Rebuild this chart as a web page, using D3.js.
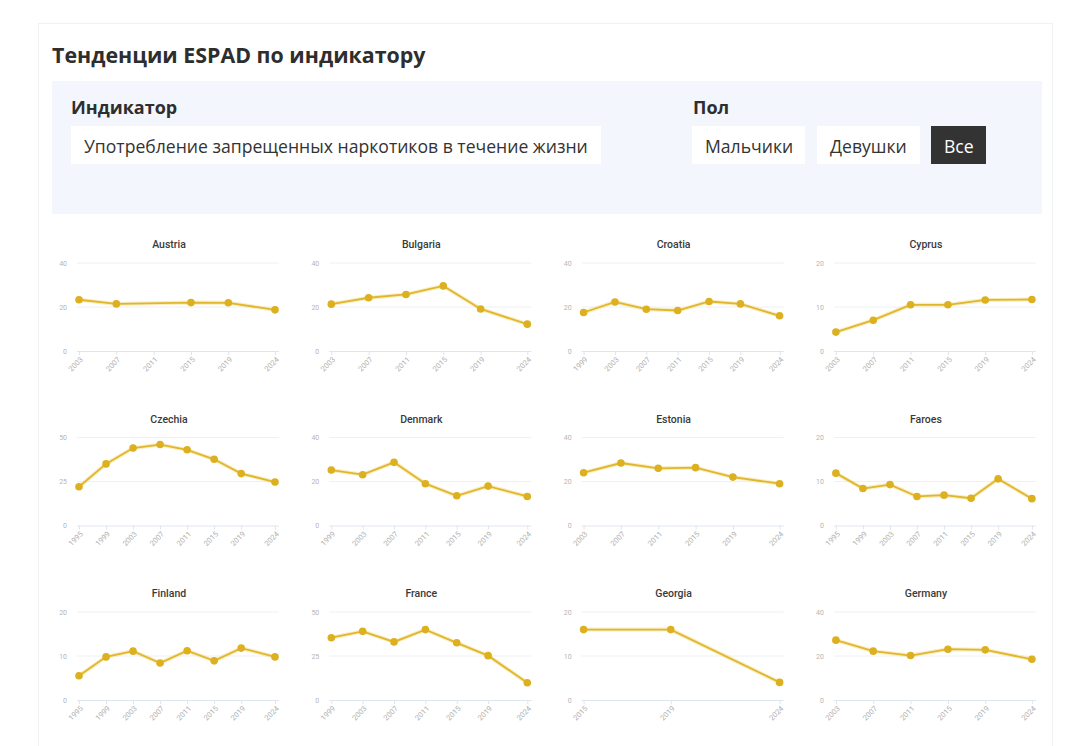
<!DOCTYPE html>
<html>
<head>
<meta charset="utf-8">
<script src="https://cdn.jsdelivr.net/npm/d3@7"></script>
<style>
  body { margin:0; background:#fff; font-family:"Open Sans", sans-serif; color:#333; }
  #card { position:absolute; left:38px; top:23px; width:1015px; height:760px; border:1px solid #f0f1f3; box-sizing:border-box; }
  h2 { position:absolute; left:13px; top:16px; margin:0; font-size:21.4px; font-weight:700; color:#2e2e2e; white-space:nowrap; }
  #panel { position:absolute; left:13px; top:57px; width:990px; height:133px; background:#f3f7fd; }
  .lbl { position:absolute; top:14px; font-size:18px; font-weight:700; color:#2e2e2e; }
  .box { position:absolute; top:45px; height:38px; line-height:40px; background:#fff; font-size:17.6px; color:#333; padding:0 13px; box-sizing:border-box; white-space:nowrap; }
  .box.on { background:#333; color:#fff; }
  #chart { position:absolute; left:0; top:0; }
</style>
</head>
<body>
<div id="card">
  <h2>Тенденции ESPAD по индикатору</h2>
  <div id="panel">
    <div class="lbl" style="left:19px">Индикатор</div>
    <div class="box" style="left:19px;width:530px">Употребление запрещенных наркотиков в течение жизни</div>
    <div class="lbl" style="left:641px">Пол</div>
    <div class="box" style="left:640px;width:113px">Мальчики</div>
    <div class="box" style="left:765px;width:103px">Девушки</div>
    <div class="box on" style="left:879px;width:55px">Все</div>
  </div>
</div>
<svg id="chart" width="1080" height="746"></svg>
<script>
// ESPAD waves; null = country not surveyed that year
const waves = [1995, 1999, 2003, 2007, 2011, 2015, 2019, 2024];

const countries = ["Austria", "Bulgaria", "Croatia", "Cyprus",
                   "Czechia", "Denmark", "Estonia", "Faroes",
                   "Finland", "France", "Georgia", "Germany"];

const austria  = [null, null, 23.3, 21.4, null, 22.0, 21.9, 18.7];
const bulgaria = [null, null, 21.3, 24.2, 25.7, 29.6, 19.1, 12.2];
const croatia  = [null, 17.5, 22.3, 19.0, 18.4, 22.5, 21.4, 16.0];
const cyprus   = [null, null, 4.3, 7.0, 10.5, 10.5, 11.6, 11.7];
const czechia  = [22.0, 35.0, 44.0, 46.0, 43.0, 37.6, 29.5, 24.7];
const denmark  = [null, 25.2, 23.1, 28.7, 19.0, 13.5, 17.9, 13.2];
const estonia  = [null, null, 24.0, 28.4, 26.0, 26.3, 22.0, 19.0];
const faroes   = [11.9, 8.4, 9.3, 6.6, 6.9, 6.2, 10.6, 6.1];
const finland  = [5.5, 9.8, 11.1, 8.4, 11.2, 8.9, 11.8, 9.8];
const france   = [null, 35.4, 39.0, 33.0, 40.0, 32.5, 25.2, 9.8];
const georgia  = [null, null, null, null, null, 16.0, 16.0, 4.0];
const germany  = [null, null, 27.2, 22.2, 20.2, 23.1, 22.8, 18.5];

const series = [austria, bulgaria, croatia, cyprus, czechia, denmark,
                estonia, faroes, finland, france, georgia, germany];

// top y tick of each panel
const yTops = [40, 40, 40, 20, 50, 40, 40, 20, 20, 50, 20, 40];

const svg = d3.select("#chart");
const colX = 79, colStep = 252.3, rowY = 263, rowStep = 174.5;
const pw = 196, ph = 88;

countries.forEach((name, i) => {
  const vals = series[i];
  const pts = waves.map((w, k) => ({ year: w, v: vals[k] })).filter(d => d.v != null);
  const first = pts[0].year, last = pts[pts.length - 1].year;
  const ticks = waves.filter(w => w >= first && w <= last);

  const x = d3.scaleLinear().domain([first, last]).range([0, pw]);
  const y = d3.scaleLinear().domain([0, yTops[i]]).range([ph, 0]);

  const g = svg.append("g")
    .attr("transform", `translate(${colX + (i % 4) * colStep},${rowY + Math.floor(i / 4) * rowStep})`);

  g.append("text")
    .attr("x", 90).attr("y", -15)
    .attr("text-anchor", "middle")
    .style("font-family", "Roboto, sans-serif")
    .style("font-size", "10.5px").style("font-weight", 500)
    .attr("fill", "#3a3a3a")
    .text(name);

  // gridlines + y labels
  const yt = [0, yTops[i] / 2, yTops[i]];
  g.selectAll(".grid").data(yt.slice(1)).enter().append("line")
    .attr("x1", -2).attr("x2", pw + 4)
    .attr("y1", d => y(d)).attr("y2", d => y(d))
    .attr("stroke", "#eef0f3").attr("stroke-width", 1);
  g.selectAll(".yl").data(yt).enter().append("text")
    .attr("x", -12).attr("y", d => y(d) + 2.5)
    .attr("text-anchor", "end")
    .style("font-family", "Roboto, sans-serif").style("font-size", "7px")
    .attr("fill", "#b5b5b5")
    .text(d => d);

  // x axis
  const xAxis = d3.axisBottom(x).tickValues(ticks).tickFormat(d3.format("d")).tickSize(4).tickSizeOuter(0);
  const ax = g.append("g").attr("transform", `translate(0,${ph})`).call(xAxis);
  ax.select(".domain").attr("d", `M-2,0.5H${pw + 4}`).attr("stroke", "#dfe5ee");
  ax.selectAll(".tick line").attr("stroke", "#dfe5ee");
  ax.selectAll(".tick text")
    .attr("fill", "#b0b0b0")
    .style("font-family", "Roboto, sans-serif").style("font-size", "7.5px")
    .attr("text-anchor", "end")
    .attr("dy", null)
    .attr("transform", "translate(4,9) rotate(-45)")
    .attr("x", 0).attr("y", 0);

  const line = d3.line().x(d => x(d.year)).y(d => y(d.v));
  g.append("path").datum(pts)
    .attr("d", line).attr("fill", "none")
    .attr("stroke", "#f3dc8a").attr("stroke-width", 4).attr("stroke-opacity", 0.5);
  g.append("path").datum(pts)
    .attr("d", line).attr("fill", "none")
    .attr("stroke", "#e0b72a").attr("stroke-width", 1.8);
  g.selectAll(".dot").data(pts).enter().append("circle")
    .attr("cx", d => x(d.year)).attr("cy", d => y(d.v))
    .attr("r", 3.8).attr("fill", "#dcb01e");
});
</script>
</body>
</html>
